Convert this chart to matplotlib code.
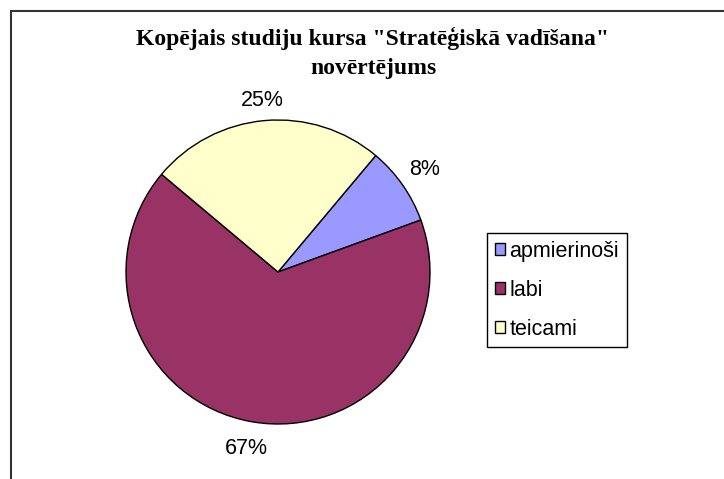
import matplotlib.pyplot as plt
from matplotlib.lines import Line2D
from matplotlib.patches import Patch

# data
categories = ['apmierinoši', 'labi', 'teicami']
counts = [1, 8, 3]
colors = ['#9999FF', '#993366', '#FFFFCC']
title = 'Kopējais studiju kursa "Stratēģiskā vadīšana"\nnovērtējums'

W, H = 724, 479
fig = plt.figure(figsize=(W / 100, H / 100), dpi=100)

# pie axes: centre (278, 272) px, radius 152 px
cx, cy, r = 278, 272, 152
ax = fig.add_axes([(cx - r) / W, (H - cy - r) / H, 2 * r / W, 2 * r / H])
wedges, texts, autotexts = ax.pie(
    counts, colors=colors, startangle=50, counterclock=False,
    autopct='%1.0f%%', pctdistance=1.18, labeldistance=None,
    wedgeprops=dict(edgecolor='black', linewidth=1.0),
    textprops=dict(fontsize=15.5, family='Liberation Sans'))
# Excel puts the top label a little closer to the pie
x, y = autotexts[2].get_position()
autotexts[2].set_position((x, y - 0.05))
ax.set_xlim(-1, 1)
ax.set_ylim(-1, 1)
ax.axis('off')

fig.text(373 / W, 1 - 27 / H, title, ha='center', va='top', fontsize=17,
         fontweight='bold', family='Liberation Serif', linespacing=1.48)

handles = [Patch(facecolor=c, edgecolor='black', linewidth=1.0) for c in colors]
fig.legend(handles, categories, loc='upper left',
           bbox_to_anchor=(487 / W, 1 - 233 / H), fancybox=False,
           edgecolor='black', framealpha=1,
           prop=dict(family='Liberation Sans', size=15.5),
           handlelength=0.5, handleheight=0.5, handletextpad=0.2,
           labelspacing=0.84, borderpad=0.35, borderaxespad=0)

# chart area border (top and left only visible)
fig.add_artist(Line2D([11 / W, 1], [1 - 11 / H, 1 - 11 / H], color='#333333', lw=1.5))
fig.add_artist(Line2D([11 / W, 11 / W], [0, 1 - 11 / H], color='#333333', lw=1.5))

fig.savefig('out.png', dpi=100)
